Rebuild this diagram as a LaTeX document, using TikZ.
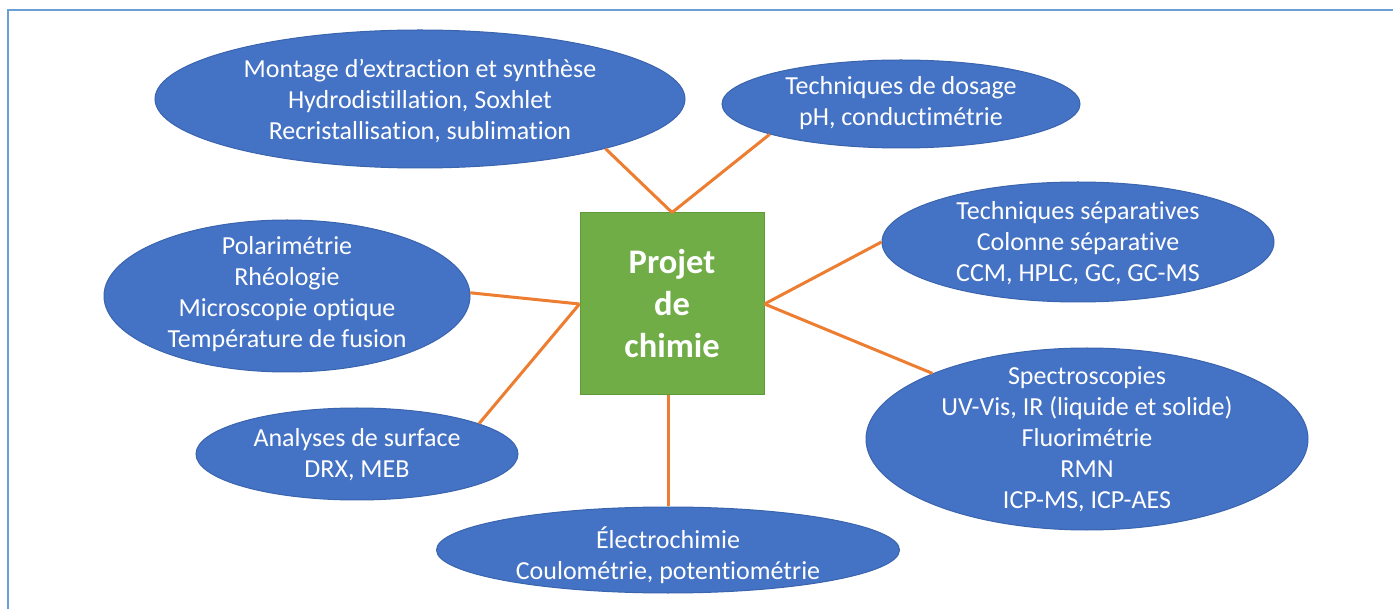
\documentclass[tikz,border=0pt]{standalone}
\usepackage{fontspec}
\setmainfont[Ligatures={NoCommon}]{Carlito}
\usetikzlibrary{shapes.geometric}
\definecolor{ellfill}{HTML}{4472C4}
\definecolor{elldraw}{HTML}{3A64AE}
\definecolor{boxfill}{HTML}{70AD47}
\definecolor{boxdraw}{HTML}{5E9A3A}
\definecolor{linkcol}{HTML}{ED7D31}
\definecolor{framecol}{HTML}{6A9FD6}
\tikzset{
  bubble/.style={ellipse, fill=ellfill, draw=elldraw, line width=1pt, inner sep=0pt},
  bubtext/.style={text=white, align=center, inner sep=0pt, font=\fontsize{26}{31}\selectfont},
  link/.style={draw=linkcol, line width=3pt},
  centerbox/.style={rectangle, fill=boxfill, draw=boxdraw, line width=1pt, minimum width=184pt, minimum height=182pt, inner sep=0pt, text=white, align=center, font=\fontsize{34.5}{42}\selectfont\bfseries}
}
\begin{document}
\begin{tikzpicture}[x=1pt,y=-1pt]
\useasboundingbox (0,0) rectangle (1393,609);
\fill[white] (0,0) rectangle (1393,609);
\draw[framecol, line width=2.5pt] (8,620) -- (8,10) -- (1400,10);

\node[centerbox] (box) at (672,304) {Projet\\de\\chimie};

\node[bubble, minimum width=530pt, minimum height=138pt] (mont) at (420,99) {};
\node[bubble, minimum width=358pt, minimum height=88pt] (dos) at (901,104) {};
\node[bubble, minimum width=392pt, minimum height=120pt] (sep) at (1078,242) {};
\node[bubble, minimum width=366pt, minimum height=152pt] (pol) at (287,296) {};
\node[bubble, minimum width=442pt, minimum height=182pt] (spec) at (1087,439) {};
\node[bubble, minimum width=322pt, minimum height=92pt] (ana) at (357,454) {};
\node[bubble, minimum width=463pt, minimum height=86pt] (elec) at (668,550) {};

\node[bubtext] (montT) at (420,101) {Montage d’extraction et synthèse\\Hydrodistillation, Soxhlet\\Recristallisation, sublimation};
\node[bubtext] (dosT) at (901,103) {Techniques de dosage\\pH, conductimétrie};
\node[bubtext] (sepT) at (1078,243) {Techniques séparatives\\Colonne séparative\\CCM, HPLC, GC, GC-MS};
\node[bubtext] (polT) at (287,294) {Polarimétrie\\Rhéologie\\Microscopie optique\\Température de fusion};
\node[bubtext] (specT) at (1087,439) {Spectroscopies\\UV-Vis, IR (liquide et solide)\\Fluorimétrie\\RMN\\ICP-MS, ICP-AES};
\node[bubtext] (anaT) at (357,455) {Analyses de surface\\DRX, MEB};
\node[bubtext] (elecT) at (668,555) {Électrochimie\\Coulométrie, potentiométrie};

\draw[link] (box.north) -- (mont.-15);
\draw[link] (box.north) -- (dos.-167);
\draw[link] (box.east) -- (sep.180);
\draw[link] (box.east) -- (spec.157);
\draw[link] (box.west) -- (pol.1);
\draw[link] (box.west) -- (ana.14);
\draw[link] ([xshift=-4pt]box.south) -- ([xshift=-4pt]box.south |- elec.north);
\end{tikzpicture}
\end{document}
